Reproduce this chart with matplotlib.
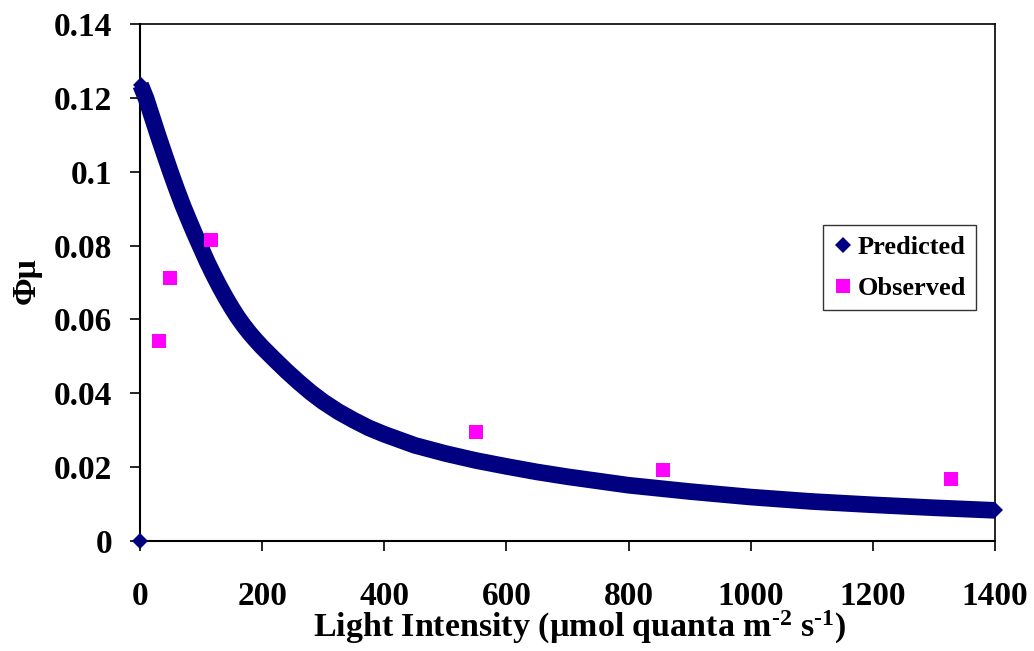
import matplotlib
matplotlib.use("Agg")
import matplotlib.pyplot as plt

plt.rcParams["font.family"] = ["Liberation Serif", "DejaVu Serif"]
plt.rcParams["font.weight"] = "bold"
plt.rcParams["mathtext.fontset"] = "custom"
plt.rcParams["mathtext.rm"] = "Liberation Serif:bold"
plt.rcParams["mathtext.default"] = "rm"

# Colors
color_pred = "#000080"
color_obs = "#ff00ff"

######### Data #########
# predicted curve, light intensity vs quantum yield
light_pred = [0, 1, 10, 20, 30, 40, 50, 60, 70, 80, 90, 100, 110, 120, 130, 140,
              150, 160, 170, 180, 190, 200, 220, 240, 260, 280, 300, 325, 350,
              375, 400, 450, 500, 550, 600, 650, 700, 800, 900, 1000, 1100,
              1200, 1300, 1400]
phi_pred = [0.0, 0.1235, 0.1198, 0.1147, 0.1096, 0.1047, 0.0999, 0.0953, 0.0909,
            0.0869, 0.0830, 0.0793, 0.0756, 0.0722, 0.0690, 0.0660, 0.0632,
            0.0606, 0.0583, 0.0562, 0.0543, 0.0525, 0.0492, 0.0460, 0.0430,
            0.0402, 0.0377, 0.0350, 0.0327, 0.0306, 0.0289, 0.0259, 0.0237,
            0.0218, 0.0202, 0.0187, 0.0174, 0.0151, 0.0134, 0.0119, 0.0107,
            0.0098, 0.0090, 0.0083]

# observed points
light_obs = [31, 49, 116, 550, 856, 1328]
phi_obs = [0.0542, 0.0712, 0.0815, 0.0295, 0.0192, 0.0168]

x_ticks = [0, 200, 400, 600, 800, 1000, 1200, 1400]
y_ticks = [0, 0.02, 0.04, 0.06, 0.08, 0.1, 0.12, 0.14]
y_tick_labels = ["0", "0.02", "0.04", "0.06", "0.08", "0.1", "0.12", "0.14"]

fig = plt.figure(figsize=(10.34, 6.51), dpi=100)
ax = fig.add_axes([140 / 1034, 1 - 541 / 651, 855 / 1034, 517 / 651])

# dense marker series drawn as a thick band plus diamonds
ax.plot(light_pred[1:], phi_pred[1:], "-", color=color_pred, lw=12,
        solid_capstyle="butt", solid_joinstyle="round", clip_on=False, zorder=3)
ax.plot(light_pred, phi_pred, "D", color=color_pred, ms=8, mew=0,
        label="Predicted", clip_on=False, zorder=4)
ax.plot(light_obs, phi_obs, "s", color=color_obs, ms=10, mew=0,
        label="Observed", clip_on=False, zorder=5)

ax.set_xlim(0, 1400)
ax.set_ylim(0, 0.14)
ax.set_xticks(x_ticks)
ax.set_yticks(y_ticks)
ax.set_yticklabels(y_tick_labels)

for side in ["left", "bottom"]:
    ax.spines[side].set_linewidth(1.5)
for side in ["top", "right"]:
    ax.spines[side].set_linewidth(1.2)

ax.tick_params(axis="both", direction="out", width=1.2, labelsize=24)
ax.tick_params(axis="x", length=7, pad=22)
ax.tick_params(axis="y", length=7, pad=13)

fig.text(313 / 1034, 1 - 637 / 651,
         r"Light Intensity (µmol quanta m$^{\text{-2}}$ s$^{\text{-1}}$)",
         ha="left", va="baseline", fontsize=24.5, fontweight="bold")
fig.text(35 / 1034, 1 - 281 / 651, "Φμ", rotation=90, rotation_mode="anchor",
         ha="center", va="baseline", fontsize=24, fontweight="bold")

leg = ax.legend(loc="upper left", bbox_to_anchor=(0.799, 0.611), fontsize=19,
                frameon=True, fancybox=False, edgecolor="black",
                borderaxespad=0, handlelength=0.7, handletextpad=0.2,
                borderpad=0.4, labelspacing=0.65)
leg.get_frame().set_linewidth(1.0)

plt.savefig("out.png", dpi=100)
plt.close()
